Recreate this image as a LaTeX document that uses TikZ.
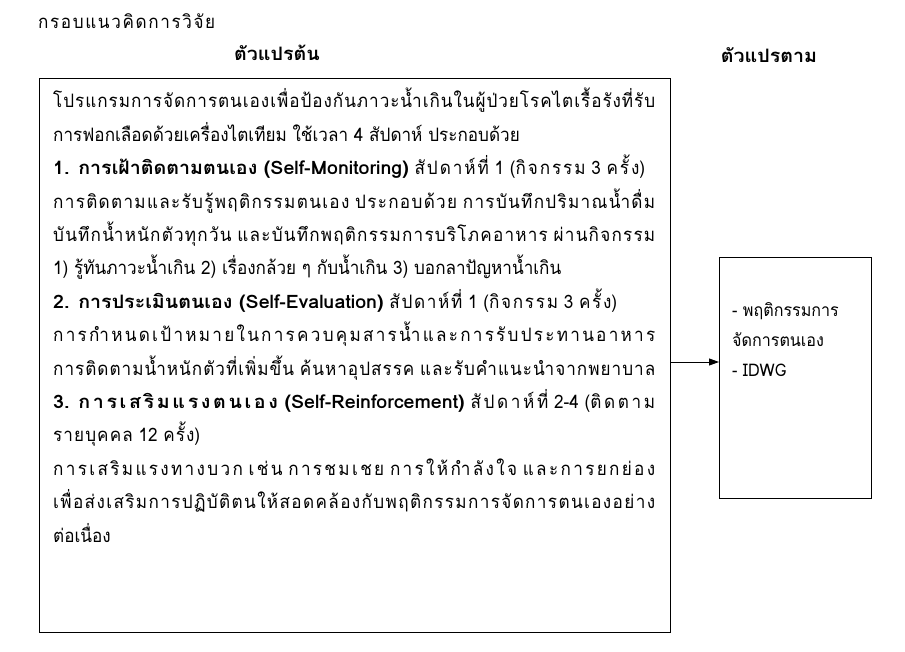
\documentclass[tikz,border=0pt]{standalone}
\usepackage{fontspec}
\setmainfont[Script=Thai, FakeStretch=0.925, BoldFeatures={FakeStretch=1.06}]{Loma}
\usetikzlibrary{arrows.meta}
% distributed Thai: stretchable glue before every spacing Thai character
\XeTeXinterchartokenstate=1
\newXeTeXintercharclass\thbase
\newXeTeXintercharclass\thmark
\count255="0E01
\loop
  \XeTeXcharclass\count255=\thbase
  \advance\count255 by 1
\ifnum\count255<"0E5C \repeat
\XeTeXcharclass"0E31=\thmark
\count255="0E33
\loop
  \XeTeXcharclass\count255=\thmark
  \advance\count255 by 1
\ifnum\count255<"0E3B \repeat
\count255="0E47
\loop
  \XeTeXcharclass\count255=\thmark
  \advance\count255 by 1
\ifnum\count255<"0E4F \repeat
\XeTeXinterchartoks\thbase\thbase={\hskip 0pt plus 1fil\relax}
\XeTeXinterchartoks\thmark\thbase={\hskip 0pt plus 1fil\relax}
\newcommand\jline[2]{\makebox[#1][s]{#2}}
\newcommand\nline[1]{\hbox{#1}}
\tikzset{
  frame/.style={draw, line width=0.9pt, anchor=north west, inner sep=0pt},
  bodytext/.style={anchor=north west, align=left, inner sep=0pt, font=\fontsize{18.5}{33.4}\selectfont},
  head/.style={inner sep=0pt, font=\fontsize{18.5}{20}\selectfont\bfseries},
  arrowline/.style={draw, line width=0.9pt, -{Triangle[length=10pt,width=7pt]}}
}
\begin{document}
\begin{tikzpicture}[x=1pt,y=-1pt]
\useasboundingbox (0,0) rectangle (905,652);
\node (title) [anchor=west, inner sep=0pt, font=\fontsize{18.5}{20}\selectfont] at (38,21) {\jline{177pt}{กรอบแนวคิดการวิจัย}};
\node (ivhead) [head] at (277,53) {ตัวแปรต้น};
\node (dvhead) [head] at (769,55) {ตัวแปรตาม};
\node (iv) [frame, minimum width=631pt, minimum height=554pt] at (39,78) {};
\node (dv) [frame, minimum width=152pt, minimum height=241pt] at (719,257) {};
\node (ivtext) [bodytext] at (53,88) {%
\jline{602pt}{โปรแกรมการจัดการตนเองเพื่อป้องกันภาวะน้ำเกินในผู้ป่วยโรคไตเรื้อรังที่รับ}\\
\nline{การฟอกเลือดด้วยเครื่องไตเทียม ใช้เวลา 4 สัปดาห์ ประกอบด้วย}\\
\jline{592pt}{\hbox{\textbf{1. การเฝ้าติดตามตนเอง (Self-Monitoring)}} สัปดาห์ที่ 1 (กิจกรรม 3 ครั้ง)}\\
\jline{602pt}{การติดตามและรับรู้พฤติกรรมตนเอง ประกอบด้วย การบันทึกปริมาณน้ำดื่ม}\\
\jline{602pt}{บันทึกน้ำหนักตัวทุกวัน และบันทึกพฤติกรรมการบริโภคอาหาร ผ่านกิจกรรม}\\
\nline{1) รู้ทันภาวะน้ำเกิน 2) เรื่องกล้วย ๆ กับน้ำเกิน 3) บอกลาปัญหาน้ำเกิน}\\
\jline{564pt}{\hbox{\textbf{2. การประเมินตนเอง (Self-Evaluation)}} สัปดาห์ที่ 1 (กิจกรรม 3 ครั้ง)}\\
\jline{602pt}{การกำหนดเป้าหมายในการควบคุมสารน้ำและการรับประทานอาหาร}\\
\jline{602pt}{การติดตามน้ำหนักตัวที่เพิ่มขึ้น ค้นหาอุปสรรค และรับคำแนะนำจากพยาบาล}\\
\jline{602pt}{\textbf{3. การเสริมแรงตนเอง (Self-Reinforcement)} สัปดาห์ที่ 2-4 (ติดตาม}\\
\jline{147pt}{รายบุคคล 12 ครั้ง)}\\
\jline{602pt}{การเสริมแรงทางบวก เช่น การชมเชย การให้กำลังใจ และการยกย่อง}\\
\jline{602pt}{เพื่อส่งเสริมการปฏิบัติตนให้สอดคล้องกับพฤติกรรมการจัดการตนเองอย่าง}\\
\nline{ต่อเนื่อง}};
\node (dvtext) [anchor=north west, align=left, inner sep=0pt, font=\fontsize{17.4}{30}\selectfont] at (732,302) {%
\nline{- พฤติกรรมการ}\\
\nline{จัดการตนเอง}\\
\nline{- IDWG}};
\coordinate (ay) at (0,362);
\draw[arrowline] (iv.east |- ay) -- (dv.west |- ay);
\end{tikzpicture}
\end{document}
